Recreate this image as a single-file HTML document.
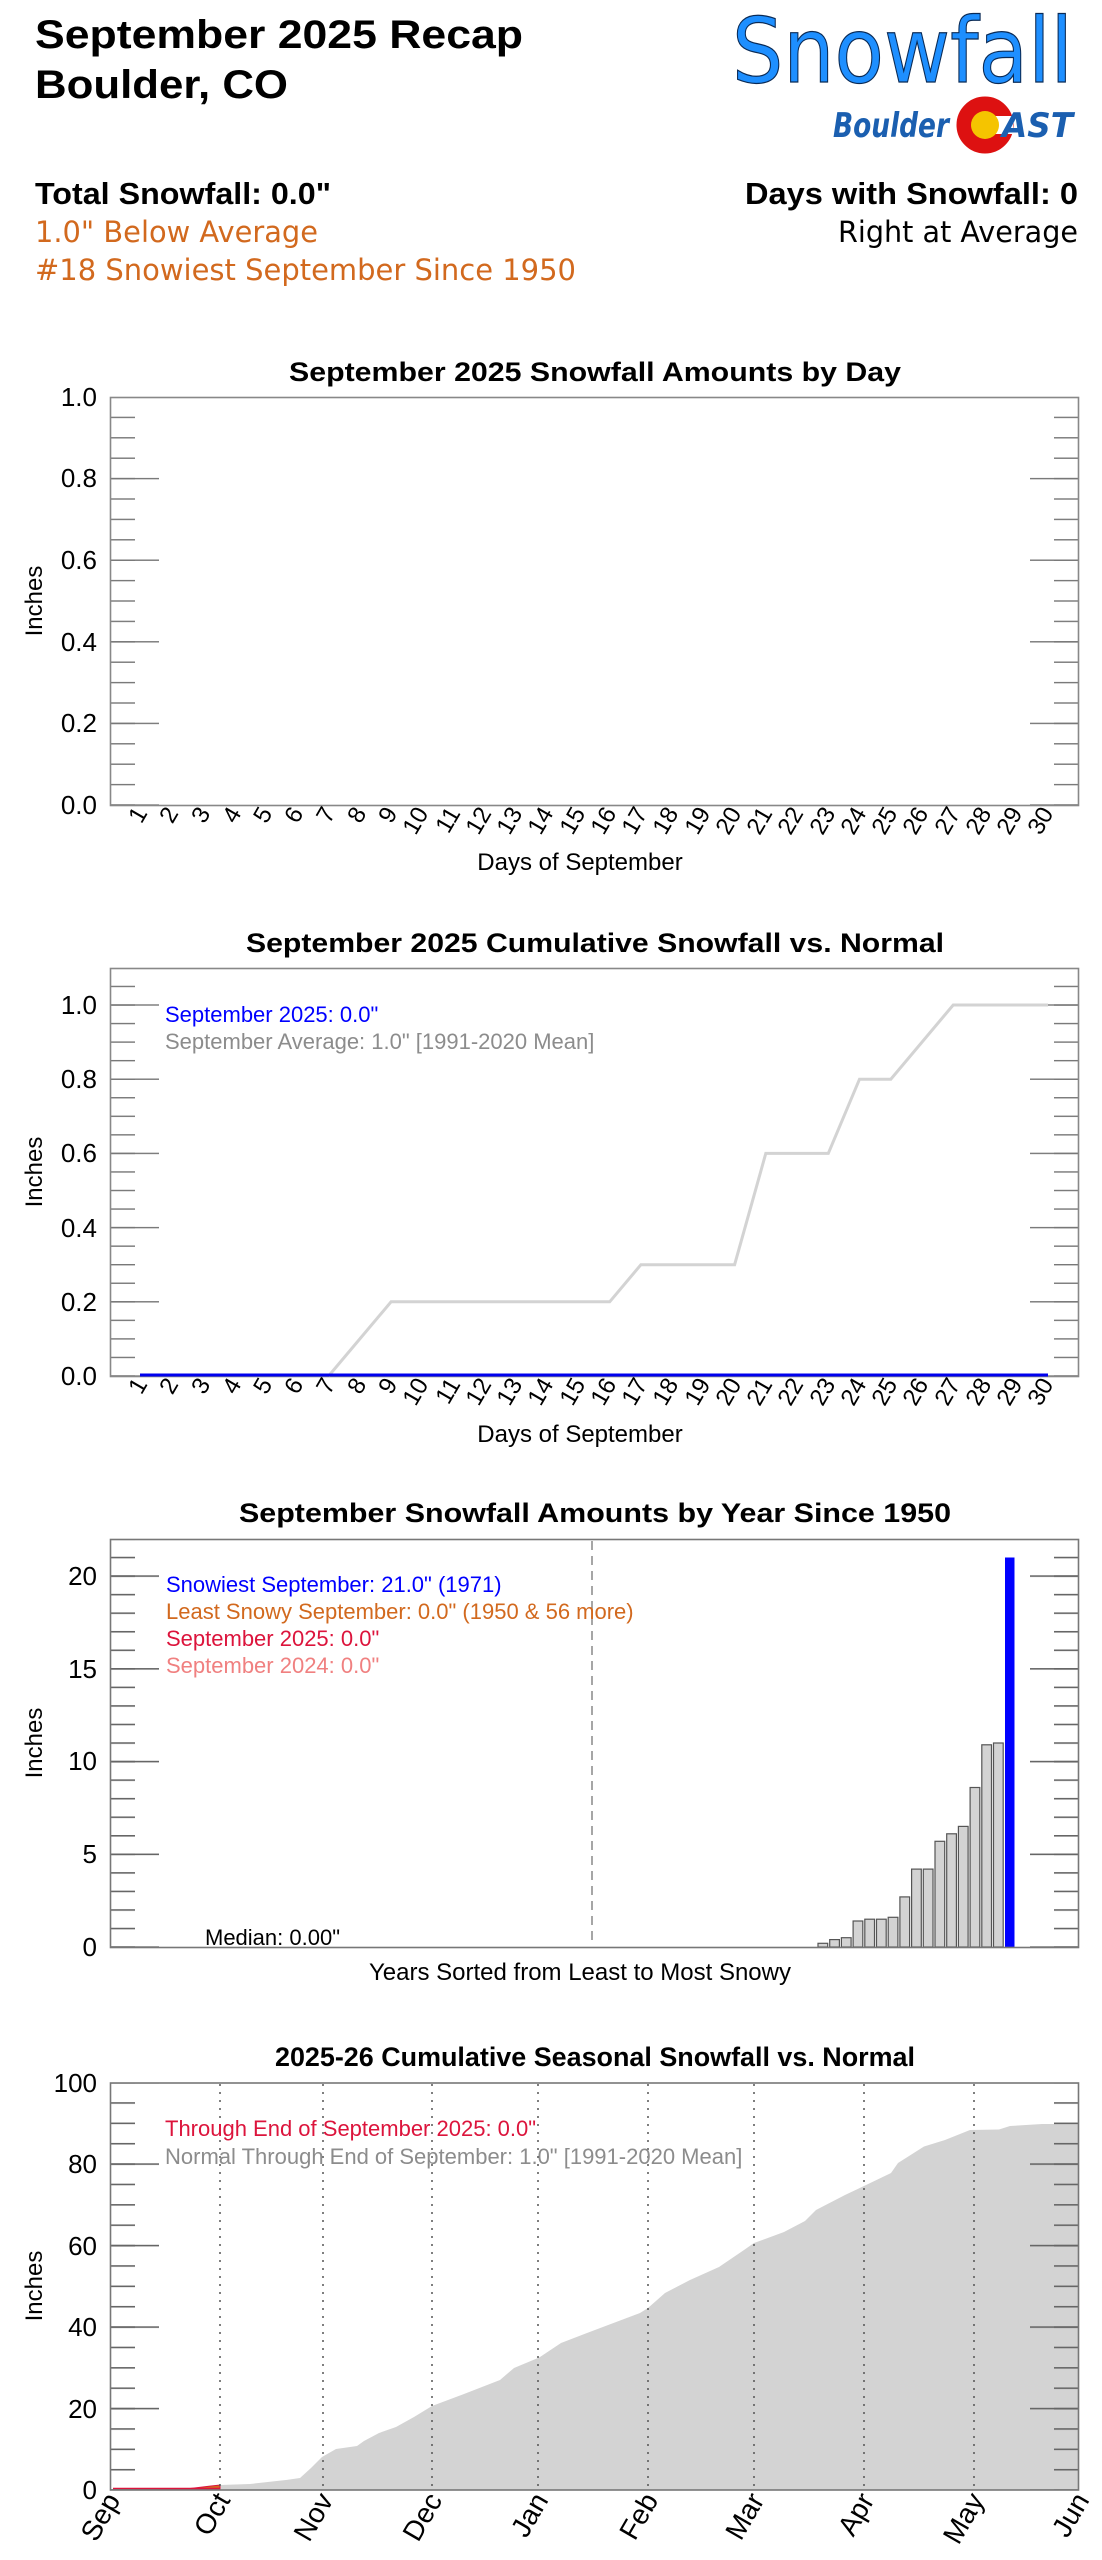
<!DOCTYPE html>
<html><head><meta charset="utf-8"><style>html,body{margin:0;padding:0;background:#fff}svg{display:block}</style></head>
<body>
<svg width="1102" height="2560" viewBox="0 0 1102 2560" xmlns="http://www.w3.org/2000/svg" font-family="Liberation Sans, Arial, sans-serif">
<defs>
<pattern id="m1" patternUnits="userSpaceOnUse" x="0" y="804.3" width="1102" height="20.4"><rect x="0" y="0" width="1102" height="1.4" fill="#777"/></pattern>
<pattern id="M1" patternUnits="userSpaceOnUse" x="0" y="804.3" width="1102" height="81.6"><rect x="0" y="0" width="1102" height="1.4" fill="#777"/></pattern>
<pattern id="m2" patternUnits="userSpaceOnUse" x="0" y="1375.3" width="1102" height="18.55"><rect x="0" y="0" width="1102" height="1.4" fill="#777"/></pattern>
<pattern id="M2" patternUnits="userSpaceOnUse" x="0" y="1375.3" width="1102" height="74.2"><rect x="0" y="0" width="1102" height="1.4" fill="#777"/></pattern>
<pattern id="m3" patternUnits="userSpaceOnUse" x="0" y="1946.3" width="1102" height="18.55"><rect x="0" y="0" width="1102" height="1.6" fill="#666"/></pattern>
<pattern id="M3" patternUnits="userSpaceOnUse" x="0" y="1946.3" width="1102" height="92.75"><rect x="0" y="0" width="1102" height="1.6" fill="#666"/></pattern>
<pattern id="m4" patternUnits="userSpaceOnUse" x="0" y="2489.3" width="1102" height="20.375"><rect x="0" y="0" width="1102" height="1.6" fill="#666"/></pattern>
<pattern id="M4" patternUnits="userSpaceOnUse" x="0" y="2489.3" width="1102" height="81.5"><rect x="0" y="0" width="1102" height="1.6" fill="#666"/></pattern>
</defs>

<!-- Header -->
<text x="35" y="48" font-size="40" font-weight="bold" textLength="488" lengthAdjust="spacingAndGlyphs">September 2025 Recap</text>
<text x="35" y="98" font-size="40" font-weight="bold" textLength="253" lengthAdjust="spacingAndGlyphs">Boulder, CO</text>
<text x="35" y="204" font-size="31" font-weight="bold" textLength="296" lengthAdjust="spacingAndGlyphs">Total Snowfall: 0.0"</text>
<text x="35" y="242" font-size="29" fill="#d2691e" font-family="DejaVu Sans, sans-serif" textLength="283" lengthAdjust="spacingAndGlyphs">1.0" Below Average</text>
<text x="35" y="280" font-size="29" fill="#d2691e" font-family="DejaVu Sans, sans-serif" textLength="541" lengthAdjust="spacingAndGlyphs">#18 Snowiest September Since 1950</text>
<text x="1078" y="204" font-size="31" font-weight="bold" text-anchor="end" textLength="333" lengthAdjust="spacingAndGlyphs">Days with Snowfall: 0</text>
<text x="1078" y="242" font-size="29" font-family="DejaVu Sans, sans-serif" text-anchor="end" textLength="240" lengthAdjust="spacingAndGlyphs">Right at Average</text>

<text x="732" y="82" font-size="90" font-family="DejaVu Sans, sans-serif" fill="#1e8fff" stroke="#0a2a55" stroke-width="1.2" textLength="341" lengthAdjust="spacingAndGlyphs">Snowfall</text>
<text x="833" y="137" font-size="34" font-weight="bold" font-style="italic" fill="#1b5fb0" font-family="DejaVu Sans, sans-serif" textLength="116" lengthAdjust="spacingAndGlyphs">Boulder</text>
<circle cx="985" cy="125" r="21" fill="none" stroke="#dd1111" stroke-width="15"/>
<rect x="995" y="116" width="18" height="18" fill="#fff"/>
<circle cx="985" cy="125" r="14" fill="#f5c400"/>
<text x="1002" y="137" font-size="34" font-weight="bold" font-style="italic" fill="#1b5fb0" font-family="DejaVu Sans, sans-serif" textLength="71" lengthAdjust="spacingAndGlyphs">AST</text>

<!-- Chart 1 -->
<text x="595" y="381" font-size="27" font-weight="bold" text-anchor="middle" textLength="612" lengthAdjust="spacingAndGlyphs">September 2025 Snowfall Amounts by Day</text>
<rect x="110" y="397" width="25" height="408" fill="url(#m1)"/>
<rect x="110" y="397" width="49" height="408" fill="url(#M1)"/>
<rect x="1054" y="397" width="25" height="408" fill="url(#m1)"/>
<rect x="1030" y="397" width="49" height="408" fill="url(#M1)"/>
<rect x="110.5" y="397.5" width="968" height="408" fill="none" stroke="#888" stroke-width="1.6"/>
<g font-size="26" text-anchor="end">
<text x="97" y="814">0.0</text><text x="97" y="732">0.2</text><text x="97" y="651">0.4</text><text x="97" y="569">0.6</text><text x="97" y="487">0.8</text><text x="97" y="406">1.0</text>
</g>
<text transform="translate(42,601) rotate(-90)" font-size="24" text-anchor="middle">Inches</text>
<g font-size="24" text-anchor="end">
<text transform="translate(148,813) rotate(-60)">1</text><text transform="translate(179,813) rotate(-60)">2</text><text transform="translate(211,813) rotate(-60)">3</text><text transform="translate(242,813) rotate(-60)">4</text><text transform="translate(273,813) rotate(-60)">5</text><text transform="translate(304,813) rotate(-60)">6</text><text transform="translate(336,813) rotate(-60)">7</text><text transform="translate(367,813) rotate(-60)">8</text><text transform="translate(398,813) rotate(-60)">9</text><text transform="translate(429,813) rotate(-60)">10</text><text transform="translate(461,813) rotate(-60)">11</text><text transform="translate(492,813) rotate(-60)">12</text><text transform="translate(523,813) rotate(-60)">13</text><text transform="translate(554,813) rotate(-60)">14</text><text transform="translate(586,813) rotate(-60)">15</text><text transform="translate(617,813) rotate(-60)">16</text><text transform="translate(648,813) rotate(-60)">17</text><text transform="translate(679,813) rotate(-60)">18</text><text transform="translate(711,813) rotate(-60)">19</text><text transform="translate(742,813) rotate(-60)">20</text><text transform="translate(773,813) rotate(-60)">21</text><text transform="translate(804,813) rotate(-60)">22</text><text transform="translate(836,813) rotate(-60)">23</text><text transform="translate(867,813) rotate(-60)">24</text><text transform="translate(898,813) rotate(-60)">25</text><text transform="translate(929,813) rotate(-60)">26</text><text transform="translate(961,813) rotate(-60)">27</text><text transform="translate(992,813) rotate(-60)">28</text><text transform="translate(1023,813) rotate(-60)">29</text><text transform="translate(1054,813) rotate(-60)">30</text>
</g>
<text x="580" y="870" font-size="24" text-anchor="middle">Days of September</text>

<!-- Chart 2 -->
<text x="595" y="952" font-size="27" font-weight="bold" text-anchor="middle" textLength="698" lengthAdjust="spacingAndGlyphs">September 2025 Cumulative Snowfall vs. Normal</text>
<rect x="110" y="968" width="25" height="408" fill="url(#m2)"/>
<rect x="110" y="968" width="49" height="408" fill="url(#M2)"/>
<rect x="1054" y="968" width="25" height="408" fill="url(#m2)"/>
<rect x="1030" y="968" width="49" height="408" fill="url(#M2)"/>
<rect x="110.5" y="968.5" width="968" height="408" fill="none" stroke="#888" stroke-width="1.6"/>
<g font-size="26" text-anchor="end">
<text x="97" y="1385">0.0</text><text x="97" y="1311">0.2</text><text x="97" y="1237">0.4</text><text x="97" y="1162">0.6</text><text x="97" y="1088">0.8</text><text x="97" y="1014">1.0</text>
</g>
<text transform="translate(42,1172) rotate(-90)" font-size="24" text-anchor="middle">Inches</text>
<polyline fill="none" stroke="#d3d3d3" stroke-width="3" points="328.6,1376 391.1,1301.8 609.7,1301.8 640.9,1264.7 734.6,1264.7 765.8,1153.4 828.3,1153.4 859.5,1079.2 890.8,1079.2 953.2,1005 1048,1005"/>
<line x1="140" y1="1375" x2="1048" y2="1375" stroke="#0000ee" stroke-width="3"/>
<text x="165" y="1022" font-size="22" fill="#0000ff">September 2025: 0.0"</text>
<text x="165" y="1049" font-size="22" fill="#8c8c8c">September Average: 1.0" [1991-2020 Mean]</text>
<g font-size="24" text-anchor="end">
<text transform="translate(148,1384) rotate(-60)">1</text><text transform="translate(179,1384) rotate(-60)">2</text><text transform="translate(211,1384) rotate(-60)">3</text><text transform="translate(242,1384) rotate(-60)">4</text><text transform="translate(273,1384) rotate(-60)">5</text><text transform="translate(304,1384) rotate(-60)">6</text><text transform="translate(336,1384) rotate(-60)">7</text><text transform="translate(367,1384) rotate(-60)">8</text><text transform="translate(398,1384) rotate(-60)">9</text><text transform="translate(429,1384) rotate(-60)">10</text><text transform="translate(461,1384) rotate(-60)">11</text><text transform="translate(492,1384) rotate(-60)">12</text><text transform="translate(523,1384) rotate(-60)">13</text><text transform="translate(554,1384) rotate(-60)">14</text><text transform="translate(586,1384) rotate(-60)">15</text><text transform="translate(617,1384) rotate(-60)">16</text><text transform="translate(648,1384) rotate(-60)">17</text><text transform="translate(679,1384) rotate(-60)">18</text><text transform="translate(711,1384) rotate(-60)">19</text><text transform="translate(742,1384) rotate(-60)">20</text><text transform="translate(773,1384) rotate(-60)">21</text><text transform="translate(804,1384) rotate(-60)">22</text><text transform="translate(836,1384) rotate(-60)">23</text><text transform="translate(867,1384) rotate(-60)">24</text><text transform="translate(898,1384) rotate(-60)">25</text><text transform="translate(929,1384) rotate(-60)">26</text><text transform="translate(961,1384) rotate(-60)">27</text><text transform="translate(992,1384) rotate(-60)">28</text><text transform="translate(1023,1384) rotate(-60)">29</text><text transform="translate(1054,1384) rotate(-60)">30</text>
</g>
<text x="580" y="1442" font-size="24" text-anchor="middle">Days of September</text>

<!-- Chart 3 -->
<text x="595" y="1522" font-size="27" font-weight="bold" text-anchor="middle" textLength="712" lengthAdjust="spacingAndGlyphs">September Snowfall Amounts by Year Since 1950</text>
<rect x="110" y="1539" width="25" height="408" fill="url(#m3)"/>
<rect x="110" y="1539" width="49" height="408" fill="url(#M3)"/>
<rect x="1054" y="1539" width="25" height="408" fill="url(#m3)"/>
<rect x="1030" y="1539" width="49" height="408" fill="url(#M3)"/>
<line x1="592" y1="1541" x2="592" y2="1946" stroke="#888" stroke-width="1.5" stroke-dasharray="9,6"/>
<g fill="#d3d3d3" stroke="#555" stroke-width="1.2">
<rect x="818" y="1943.3" width="9.7" height="3.7"/>
<rect x="829.7" y="1939.6" width="9.7" height="7.4"/>
<rect x="841.4" y="1937.7" width="9.7" height="9.3"/>
<rect x="853.1" y="1921" width="9.7" height="26"/>
<rect x="864.8" y="1919.2" width="9.7" height="27.8"/>
<rect x="876.5" y="1919.2" width="9.7" height="27.8"/>
<rect x="888.2" y="1917.3" width="9.7" height="29.7"/>
<rect x="899.9" y="1896.9" width="9.7" height="50.1"/>
<rect x="911.6" y="1869.1" width="9.7" height="77.9"/>
<rect x="923.3" y="1869.1" width="9.7" height="77.9"/>
<rect x="935" y="1841.3" width="9.7" height="105.7"/>
<rect x="946.7" y="1833.8" width="9.7" height="113.2"/>
<rect x="958.4" y="1826.4" width="9.7" height="120.6"/>
<rect x="970.1" y="1787.5" width="9.7" height="159.5"/>
<rect x="981.8" y="1744.8" width="9.7" height="202.2"/>
<rect x="993.5" y="1743" width="9.7" height="204"/>
</g>
<rect x="1005" y="1557.5" width="9.5" height="389.5" fill="#0000ff"/>
<rect x="110.5" y="1539.5" width="968" height="408" fill="none" stroke="#777" stroke-width="1.6"/>
<g font-size="26" text-anchor="end">
<text x="97" y="1956">0</text><text x="97" y="1863">5</text><text x="97" y="1770">10</text><text x="97" y="1678">15</text><text x="97" y="1585">20</text>
</g>
<text transform="translate(42,1743) rotate(-90)" font-size="24" text-anchor="middle">Inches</text>
<text x="166" y="1592" font-size="22" fill="#0000ff">Snowiest September: 21.0" (1971)</text>
<text x="166" y="1619" font-size="22" fill="#d2691e">Least Snowy September: 0.0" (1950 &amp; 56 more)</text>
<text x="166" y="1646" font-size="22" fill="#dc143c">September 2025: 0.0"</text>
<text x="166" y="1673" font-size="22" fill="#f08080">September 2024: 0.0"</text>
<text x="205" y="1945" font-size="22">Median: 0.00"</text>
<text x="580" y="1980" font-size="24" text-anchor="middle">Years Sorted from Least to Most Snowy</text>

<!-- Chart 4 -->
<text x="595" y="2066" font-size="27" font-weight="bold" text-anchor="middle" textLength="640" lengthAdjust="spacingAndGlyphs">2025-26 Cumulative Seasonal Snowfall vs. Normal</text>
<path fill="#d3d3d3" d="M110,2490 L186,2489 L211,2486 L220,2485 L250,2484 L286,2480 L300,2478 L311,2468 L322,2457 L336,2449 L357,2446 L364,2441 L379,2433 L396,2427 L414,2417 L432,2406 L464,2394 L500,2380 L514,2368 L538,2358 L540,2357 L561,2343 L587,2333 L640,2313 L648,2308 L665,2293 L690,2280 L719,2267 L744,2250 L754,2243 L784,2232 L805,2221 L816,2210 L845,2195 L864,2186 L891,2173 L898,2163 L924,2146.5 L945,2140 L970,2130 L999,2129.5 L1010,2126 L1042,2124 L1079,2124 L1079,2490 Z"/>
<path fill="#d2691e" stroke="#dc143c" stroke-width="1" d="M186,2489 L211,2486 L220,2485 L220,2490 L186,2490 Z"/>
<line x1="113" y1="2489" x2="220" y2="2489" stroke="#dc143c" stroke-width="2.5"/>
<g stroke="#555" stroke-width="1.5" stroke-dasharray="2,6">
<line x1="220" y1="2084" x2="220" y2="2489"/><line x1="323" y1="2084" x2="323" y2="2489"/><line x1="432" y1="2084" x2="432" y2="2489"/><line x1="538" y1="2084" x2="538" y2="2489"/><line x1="648" y1="2084" x2="648" y2="2489"/><line x1="754" y1="2084" x2="754" y2="2489"/><line x1="864" y1="2084" x2="864" y2="2489"/><line x1="974" y1="2084" x2="974" y2="2489"/>
</g>
<rect x="110" y="2082.5" width="25" height="408" fill="url(#m4)"/>
<rect x="110" y="2082.5" width="49" height="408" fill="url(#M4)"/>
<rect x="1054" y="2082.5" width="25" height="408" fill="url(#m4)"/>
<rect x="1030" y="2082.5" width="49" height="408" fill="url(#M4)"/>
<rect x="110.5" y="2083" width="968" height="407" fill="none" stroke="#777" stroke-width="1.6"/>
<g font-size="26" text-anchor="end">
<text x="97" y="2499">0</text><text x="97" y="2418">20</text><text x="97" y="2336">40</text><text x="97" y="2255">60</text><text x="97" y="2173">80</text><text x="97" y="2092">100</text>
</g>
<text transform="translate(42,2286) rotate(-90)" font-size="24" text-anchor="middle">Inches</text>
<text x="165" y="2136" font-size="22" fill="#dc143c">Through End of September 2025: 0.0"</text>
<text x="165" y="2164" font-size="22" fill="#8c8c8c">Normal Through End of September: 1.0" [1991-2020 Mean]</text>
<g font-size="28" text-anchor="end">
<text transform="translate(121,2500) rotate(-60)">Sep</text><text transform="translate(231,2500) rotate(-60)">Oct</text><text transform="translate(334,2500) rotate(-60)">Nov</text><text transform="translate(443,2500) rotate(-60)">Dec</text><text transform="translate(549,2500) rotate(-60)">Jan</text><text transform="translate(659,2500) rotate(-60)">Feb</text><text transform="translate(765,2500) rotate(-60)">Mar</text><text transform="translate(875,2500) rotate(-60)">Apr</text><text transform="translate(985,2500) rotate(-60)">May</text><text transform="translate(1090,2500) rotate(-60)">Jun</text>
</g>
</svg>
</body></html>
